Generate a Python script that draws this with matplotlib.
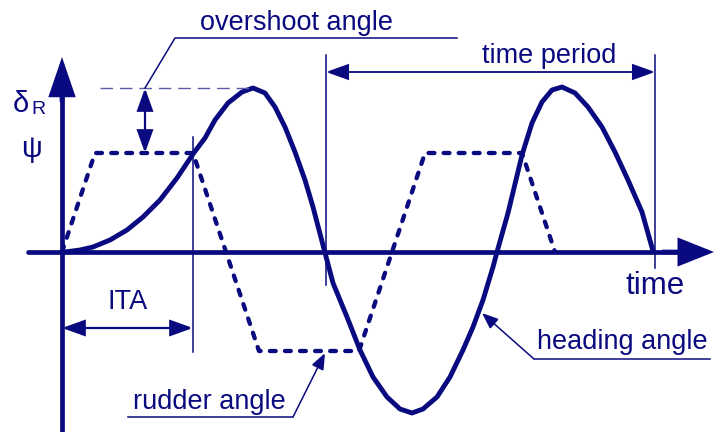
import matplotlib
matplotlib.use("Agg")
import matplotlib.pyplot as plt
from matplotlib.patches import FancyArrowPatch

# ---- data (time units ~ horizontal, angle units ~ vertical) ----
rudder_t = [0, 33, 131, 197, 297, 363, 460, 493]
rudder_v = [0, 99, 99, -99, -99, 99, 99, 0]

heading_t = [0, 5, 18, 31, 48, 65, 81, 98, 115, 131, 143, 153, 166, 180, 191,
             203, 213, 223, 233, 243, 251, 262, 271, 285, 298, 311, 325, 338,
             350, 361, 375, 388, 401, 411, 421, 431, 435, 446, 460, 470, 480,
             490, 500, 513, 526, 540, 553, 566, 580, 591]
heading_v = [0, 0.3, 2, 5, 12, 22, 35, 52, 74, 98, 114, 132, 149, 160, 164,
             159, 145, 125, 100, 72, 45, 3, -31, -65, -98, -125, -145, -157,
             -161, -157, -145, -125, -98, -75, -48, -15, 0, 39, 97, 129, 150,
             162, 165, 159, 145, 125, 100, 72, 40, 1]

period_start, period_end = 264, 593
ita_end = 131
overshoot_top = 164
rudder_level = 99

labels = {
    "overshoot": "overshoot angle",
    "period": "time period",
    "time": "time",
    "ita": "ITA",
    "rudder": "rudder angle",
    "heading": "heading angle",
}

C = "#0a0a80"
FONT = "Liberation Sans"

fig = plt.figure(figsize=(7.14, 4.32), dpi=100)
ax = fig.add_axes([0, 0, 1, 1])
ax.set_xlim(-62, 652)
ax.set_ylim(-180, 252)
ax.axis("off")

def arrow(p0, p1, style, hl, hw, lw):
    a = FancyArrowPatch(p0, p1, arrowstyle=f"{style},head_length={hl},head_width={hw}",
                        mutation_scale=1, color=C, lw=lw, shrinkA=0, shrinkB=0,
                        joinstyle="miter", capstyle="butt")
    ax.add_patch(a)

# axes
ax.plot([-34, 630], [0, 0], color=C, lw=3.4, solid_capstyle="round")
arrow((600, 0), (652, 0), "-|>", 20, 8, 3.4)
ax.plot([0, 0], [-180, 170], color=C, lw=3.4)
arrow((0, 150), (0, 195), "-|>", 22, 7.5, 3.4)

# rudder (dashed) and heading (solid)
ax.plot(rudder_t, rudder_v, color=C, lw=3.1, linestyle=(0, (1.35, 2.15)),
        dash_capstyle="round", dash_joinstyle="round")
ax.plot(heading_t, heading_v, color=C, lw=3.5, solid_joinstyle="round",
        solid_capstyle="round")

# overshoot construction
ax.plot([38, 193], [overshoot_top, overshoot_top], color="#5a5aa8", lw=1.0,
        linestyle=(0, (9, 5)))
arrow((83, rudder_level), (83, overshoot_top), "<|-|>", 14, 5, 1.6)
ax.plot([83, 113, 395], [overshoot_top, 214, 214], color=C, lw=1.1)

# ITA
ax.plot([ita_end, ita_end], [115, -100], color=C, lw=1.1)
arrow((0, -76), (ita_end, -76), "<|-|>", 14, 5, 1.6)

# time period
ax.plot([period_start, period_start], [197, -33], color=C, lw=1.1)
ax.plot([period_end, period_end], [197, -16], color=C, lw=1.1)
arrow((period_start, 180), (period_end, 180), "<|-|>", 14, 5, 1.3)

# leaders
ax.plot([66, 231], [-165, -165], color=C, lw=1.1)
arrow((231, -165), (263, -101), "-|>", 10, 4, 1.1)
ax.plot([648, 472], [-107, -107], color=C, lw=1.1)
arrow((472, -107), (420, -61), "-|>", 10, 4, 1.1)

# texts
fs = 19.5
ax.text(138, 222, labels["overshoot"], color=C, fontsize=fs, family=FONT, ha="left", va="baseline")
ax.text(420, 189, labels["period"], color=C, fontsize=fs, family=FONT, ha="left", va="baseline")
ax.text(563, -42, labels["time"], color=C, fontsize=22.5, family=FONT, ha="left", va="baseline")
ax.text(46, -57, labels["ita"], color=C, fontsize=fs, family=FONT, ha="left", va="baseline")
ax.text(71, -157, labels["rudder"], color=C, fontsize=fs, family=FONT, ha="left", va="baseline")
ax.text(475, -97, labels["heading"], color=C, fontsize=fs, family=FONT, ha="left", va="baseline")
ax.text(-49, 140, "δ", color=C, fontsize=21, family=FONT, ha="left", va="baseline")
ax.text(-31, 138, "R", color=C, fontsize=14, family=FONT, ha="left", va="baseline")
ax.text(-41, 95, "ψ", color=C, fontsize=21, family=FONT, ha="left", va="baseline")

fig.savefig("out.png", dpi=100)
